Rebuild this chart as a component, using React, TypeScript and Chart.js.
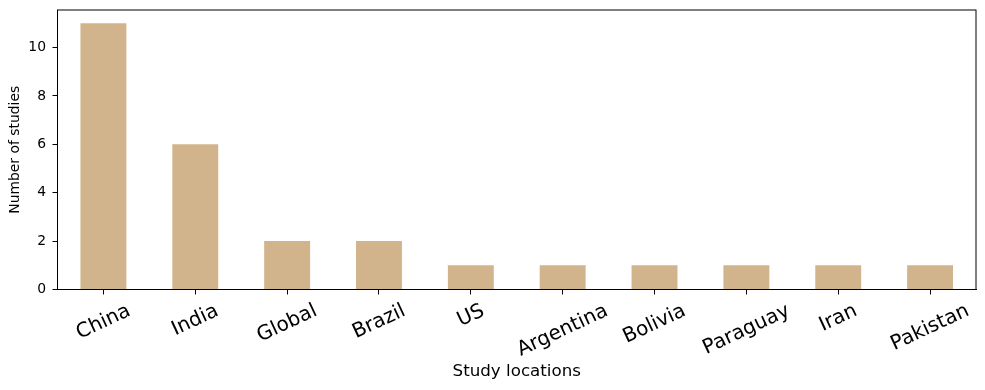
import React, { useEffect, useRef } from "react";
import { Chart, registerables } from "chart.js";

Chart.register(...registerables);

const categories = ["China", "India", "Global", "Brazil", "US", "Argentina", "Bolivia", "Paraguay", "Iran", "Pakistan"];
const studies = [11, 6, 2, 2, 1, 1, 1, 1, 1, 1];
const yTicks = [0, 2, 4, 6, 8, 10];
const yMax = 11.55;

const FONT = "'DejaVu Sans', sans-serif";
const X_LABEL_SIZE = 20;
const X_ROT = 25;

const framePlugin = {
  id: "frame",
  afterDraw(chart: any) {
    const { ctx, chartArea } = chart;
    ctx.save();
    ctx.strokeStyle = "#000";
    ctx.lineWidth = 1;
    ctx.strokeRect(chartArea.left, chartArea.top, chartArea.right - chartArea.left, chartArea.bottom - chartArea.top);
    // rotated x labels, centered under the tick (matplotlib style)
    const xs = chart.scales.x;
    const labels = xs.getLabels();
    ctx.font = `${X_LABEL_SIZE}px ${FONT}`;
    ctx.fillStyle = "#000";
    const a = (X_ROT * Math.PI) / 180;
    const top = chartArea.bottom + 5 + 5;
    labels.forEach((lab: string, i: number) => {
      const x = xs.getPixelForTick(i);
      const w = ctx.measureText(lab).width;
      const h = X_LABEL_SIZE * 1.164;
      const H = w * Math.sin(a) + h * Math.cos(a);
      ctx.save();
      ctx.translate(x, top + H / 2);
      ctx.rotate(-a);
      ctx.textAlign = "center";
      ctx.textBaseline = "middle";
      ctx.fillText(lab, 0, 0);
      ctx.restore();
    });
    ctx.restore();
  },
};

export default function App() {
  const ref = useRef<HTMLCanvasElement | null>(null);
  useEffect(() => {
    if (!ref.current) return;
    const chart = new Chart(ref.current, {
      type: "bar",
      data: {
        labels: categories,
        datasets: [
          {
            data: studies,
            backgroundColor: "#D2B48C",
            borderWidth: 0,
            barPercentage: 0.5,
            categoryPercentage: 1,
          },
        ],
      },
      options: {
        responsive: false,
        animation: false,
        layout: { padding: { top: 10, right: 9, left: 0, bottom: 0 } },
        plugins: { legend: { display: false }, tooltip: { enabled: false } },
        scales: {
          x: {
            offset: true,
            grid: { display: true, drawOnChartArea: false, drawTicks: true, tickLength: 5, color: "#000", offset: false },
            border: { display: true, color: "#000", width: 1 },
            ticks: { display: false },
            title: {
              display: true,
              text: "Study locations",
              color: "#000",
              font: { family: FONT, size: 16.7 },
              padding: { top: 0, bottom: 8.3 },
            },
            afterFit: (s: any) => {
              s.height = 100.5;
              s.paddingLeft = 0;
              s.paddingRight = 0;
            },
          },
          y: {
            min: 0,
            max: yMax,
            afterBuildTicks: (s: any) => {
              s.ticks = yTicks.map((v) => ({ value: v }));
            },
            grid: { display: true, drawOnChartArea: false, drawTicks: true, tickLength: 5, color: "#000" },
            border: { display: true, color: "#000", width: 1 },
            ticks: { color: "#000", font: { family: FONT, size: 13.9 }, padding: 6.5 },
            title: {
              display: true,
              text: "Number of studies",
              color: "#000",
              font: { family: FONT, size: 13.9 },
              padding: { top: 6.7, bottom: 0 },
            },
            afterFit: (s: any) => {
              s.width = 57.5;
              s.paddingTop = 0;
              s.paddingBottom = 0;
            },
          },
        },
      },
      plugins: [framePlugin],
    });
    return () => chart.destroy();
  }, []);
  return (
    <div style={{ position: "fixed", left: 0, top: 0, width: 985, height: 390, background: "#fff" }}>
      <canvas ref={ref} width={985} height={390} />
    </div>
  );
}
